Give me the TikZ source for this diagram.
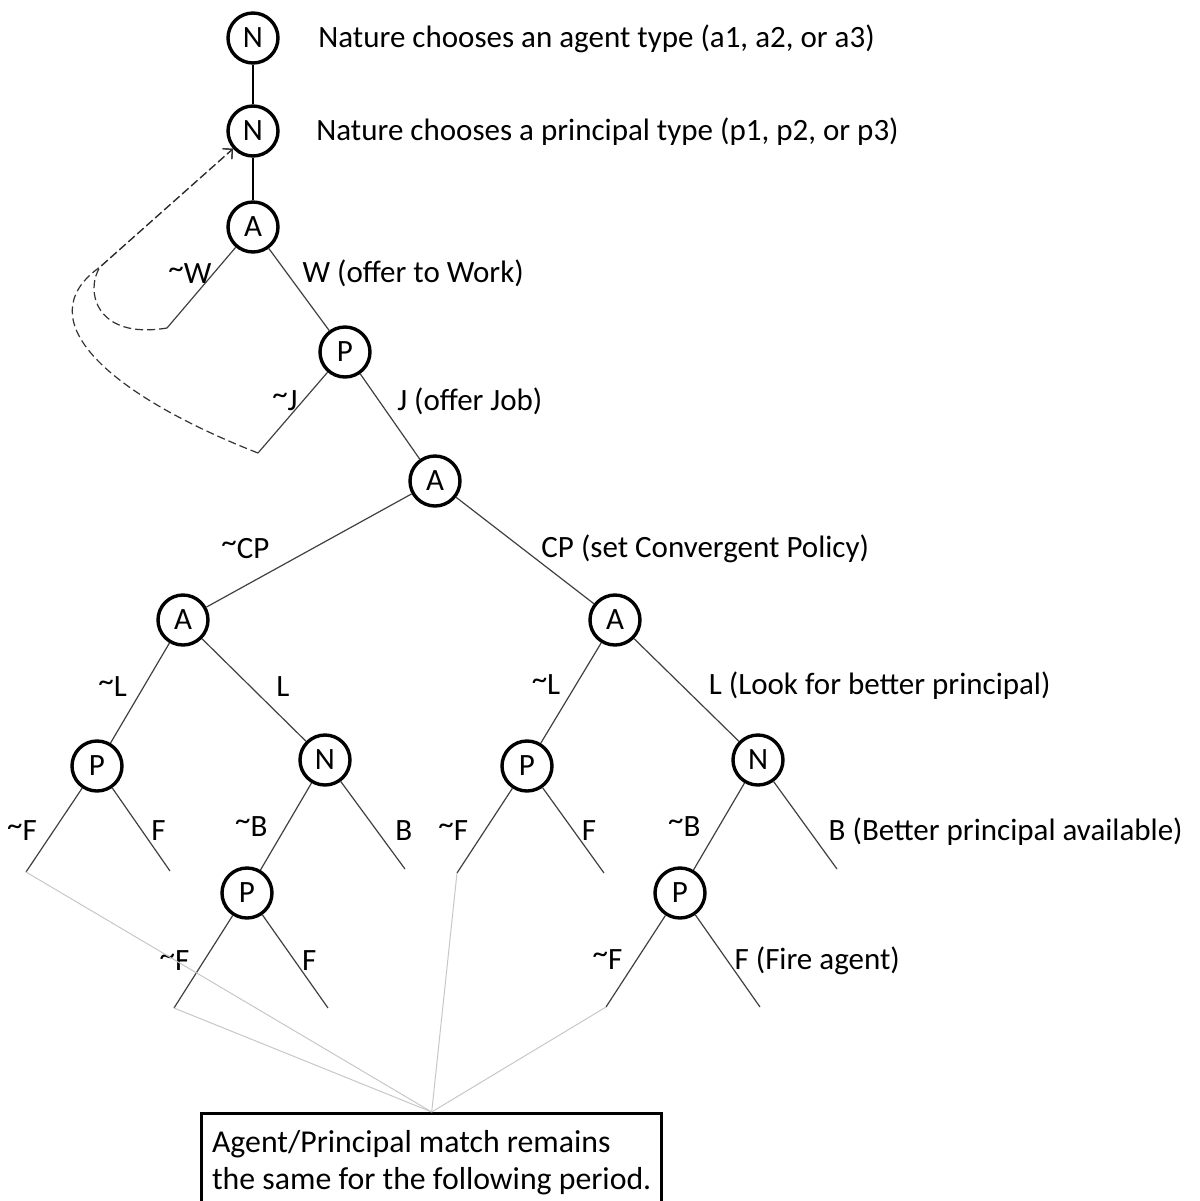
\documentclass[tikz,border=0pt]{standalone}
\usepackage{fontspec}
\setmainfont{Carlito}
\usetikzlibrary{arrows.meta, positioning}
\newcommand{\notact}{\raisebox{.18em}{\textasciitilde}}
\tikzset{
    gamenode/.style={
        circle,
        draw=black,
        line width=1.7pt,
        minimum size=25pt,
        inner sep=0pt
    },
    branch/.style={
        draw=black!75,
        line width=0.6pt
    },
    stem/.style={
        draw=black,
        line width=0.8pt
    },
    lblleft/.style={
        anchor=mid east,
        inner sep=0pt,
        xshift=-#1,
        yshift=-2.5pt
    },
    lblleft/.default=8pt,
    lblright/.style={
        anchor=mid west,
        inner sep=0pt,
        xshift=#1,
        yshift=-2.5pt
    },
    lblright/.default=8pt,
    annot/.style={
        anchor=mid west,
        inner sep=0pt,
        yshift=-2.5pt
    },
    loopback/.style={
        draw=black!80,
        line width=0.6pt,
        dash pattern=on 4pt off 2pt,
        -{Straight Barb[length=3.5pt, width=7pt]}
    },
    carryover/.style={
        draw=black!22,
        line width=0.5pt
    },
    notebox/.style={
        rectangle,
        draw=black,
        line width=1.5pt,
        minimum width=230pt,
        align=left,
        inner xsep=4pt,
        inner ysep=8.5pt,
        anchor=north,
        font=\fontsize{15.9}{18.5}\selectfont
    }
}

\begin{document}
\begin{tikzpicture}[on grid, font=\fontsize{15.5}{18.5}\selectfont]
    \useasboundingbox (0,0) rectangle (600pt,-600.5pt);

    % decision nodes
    \node[gamenode] (n1) at (126.5pt,-19pt) {N};
    \node[gamenode, below=46.5pt of n1] (n2) {N};
    \node[gamenode, below=48pt of n2] (a1) {A};
    \node[gamenode, below right=62.5pt and 46pt of a1] (p1) {P};
    \node[gamenode, below right=64.5pt and 45pt of p1] (a2) {A};
    \node[gamenode, below left=69.5pt and 126pt of a2] (a3) {A};
    \node[gamenode, below right=69.5pt and 90pt of a2] (a4) {A};
    \node[gamenode, below left=73pt and 43pt of a3] (p2) {P};
    \node[gamenode, below right=70pt and 71pt of a3] (n3) {N};
    \node[gamenode, below left=73pt and 44pt of a4] (p3) {P};
    \node[gamenode, below right=70pt and 71.5pt of a4] (n4) {N};
    \node[gamenode, below left=66.5pt and 39pt of n3] (p4) {P};
    \node[gamenode, below left=66.5pt and 39pt of n4] (p5) {P};

    \node[annot, right=32.5pt of n1, anchor=mid west] (agenttype) {Nature chooses an agent type (a1, a2, or a3)};
    \node[annot, right=31.5pt of n2, anchor=mid west] (principaltype) {Nature chooses a principal type (p1, p2, or p3)};

    % end points of the branches
    \coordinate[below left=50.5pt and 43pt of a1] (nowork);
    \coordinate[below left=50.5pt and 43.5pt of p1] (nojob);
    \coordinate[below left=53pt and 35.5pt of p2] (p2keep);
    \coordinate[below right=52.5pt and 36.5pt of p2] (p2fire);
    \coordinate[below right=54.5pt and 40pt of n3] (n3better);
    \coordinate[below left=53.5pt and 35pt of p3] (p3keep);
    \coordinate[below right=53.5pt and 38.5pt of p3] (p3fire);
    \coordinate[below right=54.5pt and 39.5pt of n4] (n4better);
    \coordinate[below left=57.5pt and 36.5pt of p4] (p4keep);
    \coordinate[below right=57.5pt and 40.5pt of p4] (p4fire);
    \coordinate[below left=57pt and 37pt of p5] (p5keep);
    \coordinate[below right=57pt and 40pt of p5] (p5fire);
    \coordinate (rejoin) at (50pt,-133.5pt);

    \node[notebox] (samematch) at (215.85pt,-556pt) {Agent/Principal match remains\\the same for the following period.};

    \draw[stem] (n1) -- (n2);
    \draw[stem] (n2) -- (a1);
    \draw[branch] (a1) -- node[lblleft=0.5pt, pos=.33] {\notact W} (nowork);
    \draw[branch] (a1) -- node[lblright=7.5pt, pos=.3] {W (offer to Work)} (p1);
    \draw[branch] (p1) -- node[lblleft=2.5pt, pos=.35] {\notact J} (nojob);
    \draw[branch] (p1) -- node[lblright=9pt, pos=.31] {J (offer Job)} (a2);
    \draw[branch] (a2) -- node[anchor=mid, inner sep=0pt, yshift=16pt, pos=.81] {\notact CP} (a3);
    \draw[branch] (a2) -- node[lblright=10pt, pos=.47] {CP (set Convergent Policy)} (a4);
    \draw[branch] (a3) -- node[lblleft=8pt, pos=.44] {\notact L} (p2);
    \draw[branch] (a3) -- node[lblright=12.5pt, pos=.47] {L} (n3);
    \draw[branch] (a4) -- node[lblleft=7.5pt, pos=.42] {\notact L} (p3);
    \draw[branch] (a4) -- node[lblright=13.5pt, pos=.45] {L (Look for better principal)} (n4);
    \draw[branch] (p2) -- node[lblleft=8pt, pos=.51] {\notact F} (p2keep);
    \draw[branch] (p2) -- node[lblright=4.5pt, pos=.51] {F} (p2fire);
    \draw[branch] (n3) -- node[lblleft=9pt, pos=.5] {\notact B} (p4);
    \draw[branch] (n3) -- node[lblright=9pt, pos=.56] {B} (n3better);
    \draw[branch] (p3) -- node[lblleft=8pt, pos=.5] {\notact F} (p3keep);
    \draw[branch] (p3) -- node[lblright=4pt, pos=.5] {F} (p3fire);
    \draw[branch] (n4) -- node[lblleft=9pt, pos=.5] {\notact B} (p5);
    \draw[branch] (n4) -- node[lblright=9.5pt, pos=.56] {B (Better principal available)} (n4better);
    \draw[branch] (p4) -- node[lblleft=7pt, pos=.49] {\notact F} (p4keep);
    \draw[branch] (p4) -- node[lblright=3.5pt, pos=.49] {F} (p4fire);
    \draw[branch] (p5) -- node[lblleft=7pt, pos=.48] {\notact F} (p5keep);
    \draw[branch] (p5) -- node[lblright=3.5pt, pos=.49] {F (Fire agent)} (p5fire);

    % back to a new principal draw
    \draw[loopback] (nowork) .. controls (47.5pt,-170pt) and (42.5pt,-145pt) .. (rejoin) -- (n2);
    \draw[loopback] (nojob) .. controls (55pt,-197.5pt) and (12.5pt,-160pt) .. (rejoin) -- (n2);

    \draw[carryover] (p2keep) -- (samematch.north);
    \draw[carryover] (p4keep) -- (samematch.north);
    \draw[carryover] (p3keep) -- (samematch.north);
    \draw[carryover] (p5keep) -- (samematch.north);
\end{tikzpicture}
\end{document}
